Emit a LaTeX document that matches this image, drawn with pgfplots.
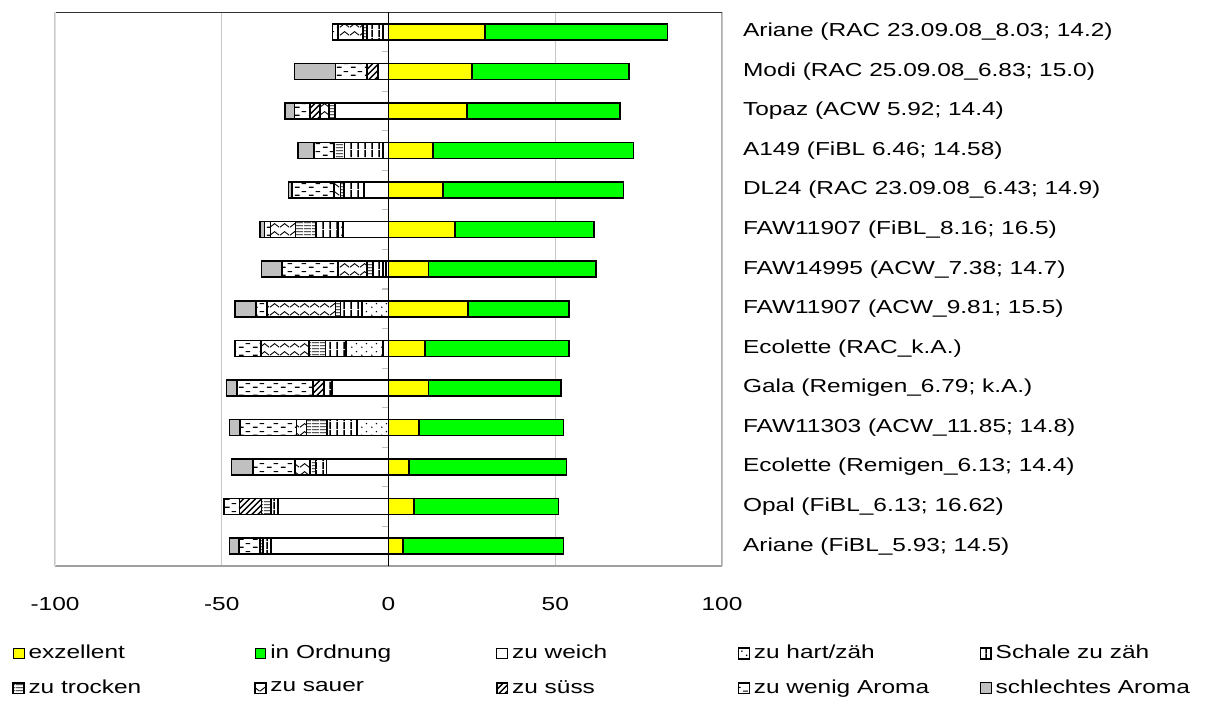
\documentclass[border=0pt]{standalone}
\usepackage{fontspec}
\setmainfont{Liberation Sans}[FakeStretch=1.3]
\usepackage{pgfplots}
\pgfplotsset{compat=1.18}
\usepackage{pgfplotstable}
\usetikzlibrary{patterns}

\definecolor{xyellow}{RGB}{255,255,0}
\definecolor{xgreen}{RGB}{0,255,0}
\definecolor{xgray}{RGB}{192,192,192}

% Excel-like fill patterns
\pgfdeclarepatternformonly{zigzag}{\pgfqpoint{0pt}{0pt}}{\pgfqpoint{5pt}{4pt}}{\pgfqpoint{5pt}{4pt}}{%
  \pgfsetlinewidth{0.5pt}%
  \pgfpathmoveto{\pgfqpoint{0pt}{1pt}}%
  \pgfpathlineto{\pgfqpoint{2.5pt}{3pt}}%
  \pgfpathlineto{\pgfqpoint{5pt}{1pt}}%
  \pgfusepath{stroke}}
\pgfdeclarepatternformonly{dashes}{\pgfqpoint{0pt}{0pt}}{\pgfqpoint{7pt}{4pt}}{\pgfqpoint{7pt}{4pt}}{%
  \pgfsetlinewidth{0.6pt}%
  \pgfpathmoveto{\pgfqpoint{0.5pt}{1pt}}\pgfpathlineto{\pgfqpoint{3pt}{1pt}}%
  \pgfpathmoveto{\pgfqpoint{4pt}{3pt}}\pgfpathlineto{\pgfqpoint{6.5pt}{3pt}}%
  \pgfusepath{stroke}}
\pgfdeclarepatternformonly{sparsedots}{\pgfqpoint{0pt}{0pt}}{\pgfqpoint{5pt}{4pt}}{\pgfqpoint{5pt}{4pt}}{%
  \pgfpathcircle{\pgfqpoint{1pt}{1pt}}{0.45pt}%
  \pgfpathcircle{\pgfqpoint{3.5pt}{3pt}}{0.45pt}%
  \pgfusepath{fill}}
\pgfdeclarepatternformonly{hlines}{\pgfqpoint{0pt}{0pt}}{\pgfqpoint{4pt}{1.6pt}}{\pgfqpoint{4pt}{1.6pt}}{%
  \pgfsetlinewidth{0.5pt}%
  \pgfpathmoveto{\pgfqpoint{0pt}{0.8pt}}\pgfpathlineto{\pgfqpoint{4pt}{0.8pt}}%
  \pgfusepath{stroke}}
\pgfdeclarepatternformonly{vlines}{\pgfqpoint{0pt}{0pt}}{\pgfqpoint{3.3pt}{4pt}}{\pgfqpoint{3.3pt}{4pt}}{%
  \pgfsetlinewidth{0.7pt}%
  \pgfpathmoveto{\pgfqpoint{1.65pt}{0pt}}\pgfpathlineto{\pgfqpoint{1.65pt}{4pt}}%
  \pgfusepath{stroke}}
\pgfdeclarepatternformonly{diag}{\pgfqpoint{-1pt}{-1pt}}{\pgfqpoint{4pt}{4pt}}{\pgfqpoint{3pt}{3pt}}{%
  \pgfsetlinewidth{0.7pt}%
  \pgfpathmoveto{\pgfqpoint{0pt}{0pt}}\pgfpathlineto{\pgfqpoint{3.1pt}{3.1pt}}%
  \pgfusepath{stroke}}

% negative side (values < 0), rows top to bottom
\pgfplotstableread{
y weich hart schale trocken sauer suess wenig schlecht
1  -1.6   0     -4.8  -1.2  -7.5   0    -1.7   0
2  -3.1   0      0     0     0    -3.3  -9.5  -12.3
3  -16.1  0      0    -1.8  -2.7  -3.0  -4.6  -2.8
4  -1.6   0    -11.6  -3.2   0     0    -6.0  -4.7
5  -7.4   0     -6.0  -1.0  -2.0   0   -12.5  -1.1
6  -13.6 -1.6   -6.5  -6.2  -7.5   0    -1.8  -1.4
7  -0.8  -0.8   -3.0  -1.8  -8.8   0   -16.7  -6.2
8   0    -7.9   -6.5  -1.5 -20.5   0    -3.3  -6.4
9  -1.6 -11.1   -6.2  -5.0 -14.3   0    -7.9   0
10 -16.9  0     -2.5   0     0    -3.3 -22.7  -3.2
11  0    -9.4   -9.0  -6.2  -3.0   0   -17.0  -3.1
12 -18.6  0     -3.3  -1.7  -4.5   0   -12.6  -6.4
13 -33.2  0     -2.0  -2.9   0    -6.6  -4.7   0
14 -35.2  0     -2.4  -1.0   0     0    -6.3  -2.8
}\negdata

% positive side
\pgfplotstableread{
y exz ok
1  28.9 54.7
2  25.0 47.1
3  23.5 45.9
4  13.4 60.1
5  16.4 54.1
6  19.9 41.8
7  12.0 50.3
8  23.8 30.4
9  11.0 43.2
10 12.0 39.8
11  9.1 43.4
12  6.1 47.3
13  7.7 43.3
14  4.4 48.1
}\posdata

\pgfplotsset{
  base/.style={
    width=333.5pt, height=277pt, scale only axis,
    xmin=-100, xmax=100, ymin=0.5, ymax=14.5, y dir=reverse,
    xbar stacked, bar width=8pt, major tick length=0pt,
  },
  seg/.style={draw=black, line width=0.8pt,
    legend image code/.code={\draw[##1, line width=0.5pt] (0pt,-2.7pt) rectangle (5.4pt,2.7pt);}},
  pat/.style={seg, preaction={fill=white}, pattern=#1},
}

\begin{document}
\begin{tikzpicture}[font=\fontsize{9.4}{11}\selectfont]
\begin{axis}[base,
  axis line style={draw=none},
  xtick={-100,-50,0,50,100},
  xmajorgrids, grid style={gray!45, line width=0.6pt},
  ytick={1,...,14},
  yticklabels={
    {Ariane (RAC 23.09.08\_8.03; 14.2)},
    {Modi (RAC 25.09.08\_6.83; 15.0)},
    {Topaz (ACW 5.92; 14.4)},
    {A149 (FiBL 6.46; 14.58)},
    {DL24 (RAC 23.09.08\_6.43; 14.9)},
    {FAW11907 (FiBL\_8.16; 16.5)},
    {FAW14995 (ACW\_7.38; 14.7)},
    {FAW11907 (ACW\_9.81; 15.5)},
    {Ecolette (RAC\_k.A.)},
    {Gala (Remigen\_6.79; k.A.)},
    {FAW11303 (ACW\_11.85; 14.8)},
    {Ecolette (Remigen\_6.13; 14.4)},
    {Opal (FiBL\_6.13; 16.62)},
    {Ariane (FiBL\_5.93; 14.5)}},
  yticklabel pos=right,
  yticklabel style={xshift=7pt},
  xticklabel style={yshift=-12pt},
  /pgf/number format/assume math mode=true,
  ticklabel style={font=\fontsize{9.4}{11}\selectfont},
]
\addplot[seg, fill=white] table[x=weich, y=y] {\negdata};
\addplot[pat=sparsedots] table[x=hart, y=y] {\negdata};
\addplot[pat=vlines] table[x=schale, y=y] {\negdata};
\addplot[pat=hlines] table[x=trocken, y=y] {\negdata};
\addplot[pat=zigzag] table[x=sauer, y=y] {\negdata};
\addplot[pat=diag] table[x=suess, y=y] {\negdata};
\addplot[pat=dashes] table[x=wenig, y=y] {\negdata};
\addplot[seg, fill=xgray] table[x=schlecht, y=y] {\negdata};
\coordinate (tl) at (axis description cs:0,1);
\draw[gray!25, line width=0.7pt] (axis description cs:0,0) -- (axis description cs:0,1);
\draw[black!80, line width=0.7pt] (axis description cs:0,1) -- (axis description cs:1,1);
\draw[gray!65, line width=0.7pt] (axis description cs:1,1) -- (axis description cs:1,0);
\draw[gray!75, line width=1pt] (axis description cs:0,0) -- (axis description cs:1,0);
\end{axis}

\begin{axis}[base, hide axis,
  legend columns=5,
  legend cell align=left,
  legend style={at={(axis description cs:-0.064,-0.135)}, anchor=north west,
    draw=none, fill=none, inner sep=0pt, row sep=5pt,
    font=\fontsize{9.4}{11}\selectfont},
]
\addplot[seg, fill=xyellow] table[x=exz, y=y] {\posdata};
\addlegendentry{\makebox[111pt][l]{exzellent}}
\addplot[seg, fill=xgreen] table[x=ok, y=y] {\posdata};
\addlegendentry{\makebox[111pt][l]{in Ordnung}}
\addlegendimage{seg, fill=white}
\addlegendentry{\makebox[111pt][l]{zu weich}}
\addlegendimage{pat=sparsedots}
\addlegendentry{\makebox[111pt][l]{zu hart/zäh}}
\addlegendimage{pat=vlines}
\addlegendentry{Schale zu zäh}
\addlegendimage{pat=hlines}
\addlegendentry{\makebox[111pt][l]{zu trocken}}
\addlegendimage{pat=zigzag}
\addlegendentry{\makebox[111pt][l]{zu sauer}}
\addlegendimage{pat=diag}
\addlegendentry{\makebox[111pt][l]{zu süss}}
\addlegendimage{pat=dashes}
\addlegendentry{\makebox[111pt][l]{zu wenig Aroma}}
\addlegendimage{seg, fill=xgray}
\addlegendentry{schlechtes Aroma}
\draw[black, line width=0.8pt] (axis cs:0,0.5) -- (axis cs:0,14.5);
\pgfplotsinvokeforeach{1.5,2.5,...,13.5}{
  \draw[gray!50, line width=0.6pt] (axis cs:0,#1) -- ++(-3.5pt,0pt);
}
\end{axis}
\path ([xshift=-27.5pt,yshift=6pt]tl) rectangle ++(612.5pt,-349pt);
\end{tikzpicture}
\end{document}
